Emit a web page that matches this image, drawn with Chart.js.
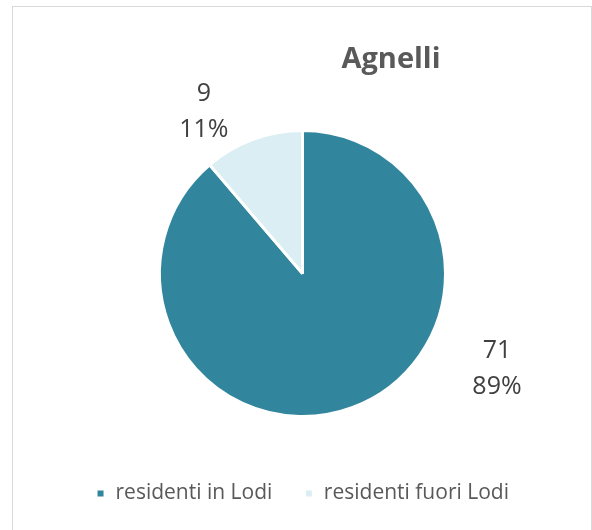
<!DOCTYPE html>
<html>
<head>
<meta charset="utf-8">
<script src="https://cdn.jsdelivr.net/npm/chart.js@4.4.1/dist/chart.umd.min.js"></script>
<style>
  html, body { margin: 0; padding: 0; background: #fff; }
  #wrap { position: relative; width: 592px; height: 530px; overflow: hidden; }
  #frame { position: absolute; left: 12px; top: 6px; width: 578px; height: 600px; border: 1px solid #d9d9d9; }
  #chart { position: absolute; left: 0; top: 0; }
</style>
</head>
<body>
<div id="wrap">
  <div id="frame"></div>
  <canvas id="chart" width="592" height="530"></canvas>
</div>
<script>
// Chart data
const chartTitle = "Agnelli"
const categories = ["residenti in Lodi", "residenti fuori Lodi"]
const values = [71, 9]
const percentLabels = ["89%", "11%"]
const sliceColors = ["#31859C", "#DAEEF3"]

// where each data label sits, as a fraction of the pie radius from its centre
const labelOffsets = [[1.36, 0.67], [-0.69, -1.13]]

const FONT = "'Open Sans', 'Noto Sans', sans-serif"

// Title drawn off-centre, like the original
const titlePlugin = {
  id: "offsetTitle",
  afterDraw(chart) {
    const ctx = chart.ctx
    ctx.save()
    ctx.font = "bold 29px " + FONT
    ctx.fillStyle = "#595959"
    ctx.textAlign = "center"
    ctx.textBaseline = "alphabetic"
    ctx.fillText(chartTitle, 391, 68)
    ctx.restore()
  },
}

// Value + percentage labels outside the slices
const sliceLabels = {
  id: "sliceLabels",
  afterDatasetsDraw(chart) {
    const ctx = chart.ctx
    const arcs = chart.getDatasetMeta(0).data
    ctx.save()
    ctx.font = "25px " + FONT
    ctx.fillStyle = "#404040"
    ctx.textAlign = "center"
    ctx.textBaseline = "middle"
    arcs.forEach((arc, i) => {
      const r = arc.outerRadius
      const cx = arc.x + labelOffsets[i][0] * r
      const cy = arc.y + labelOffsets[i][1] * r
      ctx.fillText(String(values[i]), cx, cy - 18)
      ctx.fillText(percentLabels[i], cx, cy + 18)
    })
    ctx.restore()
  },
}

new Chart(document.getElementById("chart"), {
  type: "pie",
  data: {
    labels: categories,
    datasets: [
      {
        data: values,
        backgroundColor: sliceColors,
        borderColor: "#ffffff",
        borderWidth: 3,
      },
    ],
  },
  options: {
    responsive: false,
    animation: false,
    radius: 143,
    layout: {
      padding: { left: 13, right: 0, top: 96, bottom: 16 },
    },
    plugins: {
      title: { display: false },
      tooltip: { enabled: false },
      legend: {
        display: true,
        position: "bottom",
        labels: {
          boxWidth: 9,
          boxHeight: 9,
          padding: 32,
          color: "#595959",
          font: { family: FONT, size: 21 },
        },
      },
    },
  },
  plugins: [titlePlugin, sliceLabels],
})
</script>
</body>
</html>
